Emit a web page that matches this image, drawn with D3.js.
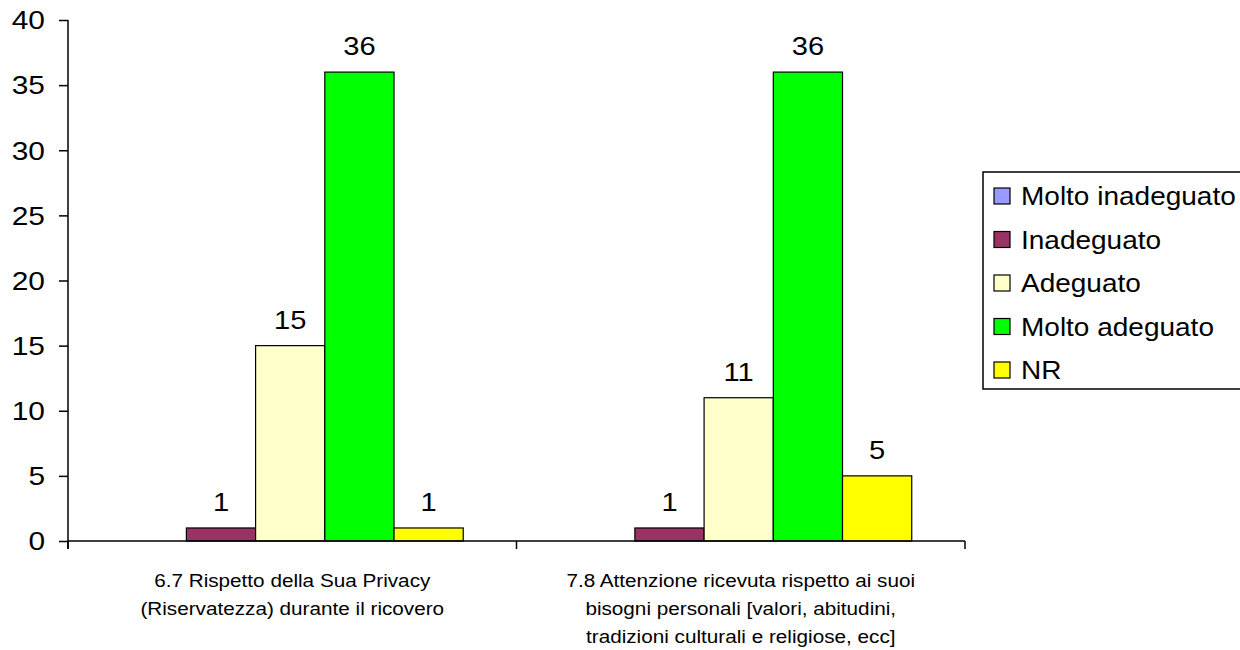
<!DOCTYPE html>
<html>
<head>
<meta charset="utf-8">
<script src="https://cdn.jsdelivr.net/npm/d3@7"></script>
<style>
  html, body { margin: 0; padding: 0; background: #fff; }
  svg { display: block; font-family: "Liberation Sans", Arial, sans-serif; }
</style>
</head>
<body>
<svg id="chart" width="1240" height="650"></svg>
<script>
// Survey answers per question, one array per rating
const categories = [
  ["6.7 Rispetto della Sua Privacy", "(Riservatezza) durante il ricovero"],
  ["7.8 Attenzione ricevuta rispetto ai suoi", "bisogni personali [valori, abitudini,", "tradizioni culturali e religiose, ecc]"]
];
const seriesNames = ["Molto inadeguato", "Inadeguato", "Adeguato", "Molto adeguato", "NR"];
const moltoInadeguato = [0, 0];
const inadeguato = [1, 1];
const adeguato = [15, 11];
const moltoAdeguato = [36, 36];
const nr = [1, 5];
const yTicks = [0, 5, 10, 15, 20, 25, 30, 35, 40];

const seriesValues = [moltoInadeguato, inadeguato, adeguato, moltoAdeguato, nr];
const colors = ["#9999FF", "#993366", "#FFFFCC", "#00FF00", "#FFFF00"];

// Text in this chart is set slightly wide
const stretch = 1.12;

const svg = d3.select("#chart");
const plotLeft = 68, plotRight = 965, plotTop = 20, plotBottom = 541;

const catIdx = categories.map((c, i) => i);
const x0 = d3.scaleBand().domain(catIdx).range([plotLeft, plotRight]).padding(0);
const x1 = d3.scaleBand().domain(d3.range(seriesNames.length))
  .range([0, x0.bandwidth()]).paddingInner(0).paddingOuter(0.74).align(0.48);
const y = d3.scaleLinear().domain([0, 40]).range([plotBottom, plotTop]);

function wideText(parent, x, yPos, str, size, anchor) {
  return parent.append("text")
    .attr("transform", `translate(${x},${yPos}) scale(${stretch},1)`)
    .attr("text-anchor", anchor || "middle")
    .attr("font-size", size)
    .attr("fill", "#000")
    .text(str);
}

// Bars
const groups = svg.append("g").selectAll("g")
  .data(catIdx).join("g")
  .attr("transform", d => `translate(${x0(d)},0)`);

const barData = ci => seriesValues.map((vals, si) => ({ si, v: vals[ci] })).filter(d => d.v > 0);

groups.selectAll("rect")
  .data(barData)
  .join("rect")
  .attr("x", d => x1(d.si))
  .attr("y", d => y(d.v))
  .attr("width", x1.bandwidth())
  .attr("height", d => y(0) - y(d.v))
  .attr("fill", d => colors[d.si])
  .attr("stroke", "#000")
  .attr("stroke-width", 1.2);

// Value labels
groups.each(function (ci) {
  const g = d3.select(this);
  barData(ci).forEach(d => {
    wideText(g, x1(d.si) + x1.bandwidth() / 2, y(d.v) - 17, d.v, 26);
  });
});

// Y axis
const yAxis = d3.axisLeft(y).tickValues(yTicks).tickSize(9).tickPadding(14);
const gy = svg.append("g").attr("transform", `translate(${plotLeft},0)`).call(yAxis);
gy.select(".domain").attr("stroke", "#000").attr("stroke-width", 1.5).attr("d", `M0,${plotTop}V${plotBottom + 8}`);
gy.selectAll(".tick line").attr("stroke", "#000").attr("stroke-width", 1.5);
gy.selectAll(".tick text")
  .attr("x", 0).attr("dy", "0.34em")
  .attr("transform", `translate(-23,0) scale(1.15,1)`)
  .attr("font-size", 26).attr("fill", "#000")
  .attr("font-family", "Liberation Sans, Arial, sans-serif");

// X axis line with boundary ticks between categories
const gx = svg.append("g");
gx.append("line").attr("x1", plotLeft).attr("x2", plotRight).attr("y1", plotBottom).attr("y2", plotBottom)
  .attr("stroke", "#000").attr("stroke-width", 1.5);
const boundaries = catIdx.map(i => x0(i)).concat([x0(catIdx[catIdx.length - 1]) + x0.bandwidth()]);
gx.selectAll("line.tk").data(boundaries).join("line").attr("class", "tk")
  .attr("x1", d => d).attr("x2", d => d).attr("y1", plotBottom).attr("y2", plotBottom + 8)
  .attr("stroke", "#000").attr("stroke-width", 1.5);

// Category labels
catIdx.forEach(i => {
  const cx = x0(i) + x0.bandwidth() / 2;
  categories[i].forEach((line, k) => {
    wideText(gx, cx, 587 + k * 28, line, 18.5);
  });
});

// Legend
const lg = svg.append("g");
lg.append("rect").attr("x", 983).attr("y", 172).attr("width", 270).attr("height", 217)
  .attr("fill", "#fff").attr("stroke", "#000").attr("stroke-width", 1.5);
seriesNames.forEach((name, i) => {
  const cy = 196 + i * 43.5;
  lg.append("rect").attr("x", 994).attr("y", cy - 8).attr("width", 16).attr("height", 16)
    .attr("fill", colors[i]).attr("stroke", "#000").attr("stroke-width", 1.2);
  wideText(lg, 1021, cy + 9, name, 25, "start");
});
</script>
</body>
</html>
